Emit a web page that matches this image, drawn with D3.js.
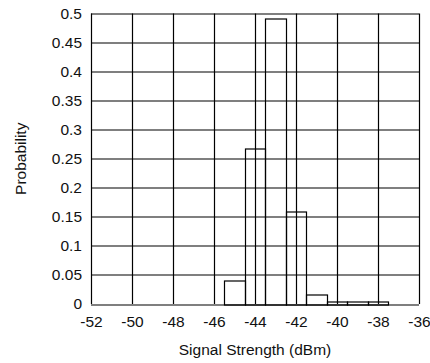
<!DOCTYPE html>
<html>
<head>
<meta charset="utf-8">
<script src="https://cdn.jsdelivr.net/npm/d3@7"></script>
<style>
  body { margin: 0; background: #fff; }
  text { font-family: "Liberation Sans", Arial, sans-serif; fill: #111; }
</style>
</head>
<body>
<svg id="chart" width="430" height="363"></svg>
<script>
// histogram bins (centre in dBm) and their probabilities
var binCenters = [-45, -44, -43, -42, -41, -40, -39, -38];
var binProb = [0.041, 0.268, 0.492, 0.16, 0.017, 0.005, 0.005, 0.005];
var xTicks = [-52, -50, -48, -46, -44, -42, -40, -38, -36];
var yTicks = [0, 0.05, 0.1, 0.15, 0.2, 0.25, 0.3, 0.35, 0.4, 0.45, 0.5];

var margin = {top: 13.5, right: 11, bottom: 59, left: 91};
var svg = d3.select("#chart");
var W = +svg.attr("width"), H = +svg.attr("height");
var w = W - margin.left - margin.right, h = H - margin.top - margin.bottom;

var x = d3.scaleLinear().domain([-52, -36]).range([0, w]);
var y = d3.scaleLinear().domain([0, 0.5]).range([h, 0]);

var g = svg.append("g").attr("transform", "translate(" + margin.left + "," + margin.top + ")");

// bars (outline only)
g.selectAll("rect.bar").data(binCenters).enter().append("rect")
  .attr("class", "bar")
  .attr("x", function(d){ return Math.round(x(d - 0.5)) + 0.5; })
  .attr("width", function(d){ return Math.round(x(d + 0.5)) - Math.round(x(d - 0.5)); })
  .attr("y", function(d, i){ return Math.round(y(binProb[i])) + 0.5; })
  .attr("height", function(d, i){ return Math.round(y(0)) - Math.round(y(binProb[i])); })
  .attr("fill", "none")
  .attr("stroke", "#000")
  .attr("stroke-width", 1.2);

// grid
g.selectAll("line.hgrid").data(yTicks).enter().append("line")
  .attr("x1", 0).attr("x2", w)
  .attr("y1", function(d){ return Math.round(y(d)) + 0.5; })
  .attr("y2", function(d){ return Math.round(y(d)) + 0.5; })
  .attr("stroke", "#000").attr("stroke-width", 1.2);
g.selectAll("line.vgrid").data(xTicks).enter().append("line")
  .attr("y1", 0).attr("y2", h)
  .attr("x1", function(d){ return Math.round(x(d)) + 0.5; })
  .attr("x2", function(d){ return Math.round(x(d)) + 0.5; })
  .attr("stroke", "#000").attr("stroke-width", 1.2);

// axes (labels only)
var xAxis = g.append("g").attr("transform", "translate(0," + h + ")")
  .call(d3.axisBottom(x).tickValues(xTicks).tickSize(0).tickPadding(12).tickFormat(d3.format("d")));
var yAxis = g.append("g")
  .call(d3.axisLeft(y).tickValues(yTicks).tickSize(0).tickPadding(9).tickFormat(function(d){ return String(+d.toFixed(2)); }));
[xAxis, yAxis].forEach(function(a){
  a.select(".domain").remove();
  a.selectAll("text").style("font-size", "15.5px").style("font-family", "'Liberation Sans', Arial, sans-serif").attr("fill", "#111");
});
xAxis.selectAll("text").text(function(d){ return d < 0 ? "-" + Math.abs(d) : d; });

svg.append("text")
  .attr("x", margin.left + w / 2).attr("y", 355)
  .attr("text-anchor", "middle").style("font-size", "15.5px")
  .text("Signal Strength (dBm)");

svg.append("text")
  .attr("transform", "translate(26," + (margin.top + h / 2) + ") rotate(-90)")
  .attr("text-anchor", "middle").style("font-size", "15.5px")
  .text("Probability");
</script>
</body>
</html>
